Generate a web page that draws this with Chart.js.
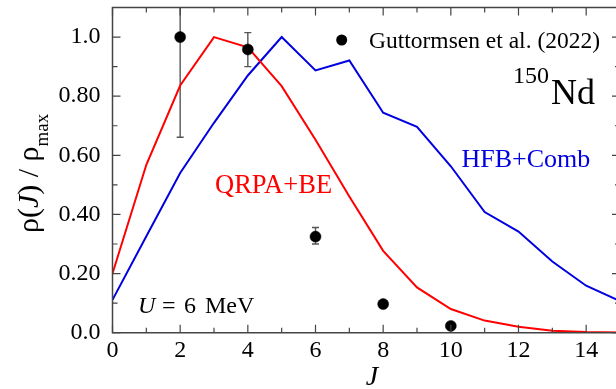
<!DOCTYPE html>
<html><head><meta charset="utf-8">
<script src="https://cdn.jsdelivr.net/npm/chart.js@4.4.0/dist/chart.umd.min.js"></script>
<style>
html,body{margin:0;padding:0;overflow:hidden;background:#fff;}
#wrap{width:626px;height:389px;position:relative;}
</style></head><body>
<div id="wrap"><canvas id="c"></canvas></div>
<script>
// ---- data ----
const spinJ    = [0,1,2,3,4,5,6,7,8,9,10,11,12,13,14,15];
const qrpaBE   = [0.200,0.568,0.836,1.000,0.965,0.834,0.653,0.461,0.277,0.153,0.080,0.041,0.020,0.007,0.002,0.001];
const hfbComb  = [0.111,0.326,0.540,0.710,0.870,1.000,0.887,0.921,0.744,0.696,0.563,0.408,0.342,0.241,0.159,0.107];
const expJ     = [2,4,6,8,10];
const expRho   = [1.000,0.958,0.325,0.097,0.023];
const expLow   = [0.661,0.900,0.300,0.090,0.018];
const expHigh  = [1.340,1.015,0.356,0.104,0.028];
const xTickVals   = [0,2,4,6,8,10,12,14];
const xTickLabels = ['0','2','4','6','8','10','12','14'];
const yTickVals   = [0,0.2,0.4,0.6,0.8,1.0];
const yTickLabels = ['0.0','0.20','0.40','0.60','0.80','1.0'];

const SERIF = '"Liberation Serif","Times New Roman",serif';
const RED = 'rgb(255,0,0)';
const BLUE = 'rgb(0,0,225)';

const pts = (xs, ys) => xs.map((x,i)=>({x:x, y:ys[i]}));

const framePlugin = {
  id:'frame',
  beforeDatasetsDraw(chart){
    const {ctx, chartArea:a, scales:{x, y}} = chart;
    ctx.save();
    ctx.beginPath(); ctx.rect(a.left, a.top, a.right-a.left, a.bottom-a.top); ctx.clip();
    ctx.strokeStyle = '#555'; ctx.lineWidth = 1.4;
    expJ.forEach((j,i)=>{
      const px = x.getPixelForValue(j);
      const lo = y.getPixelForValue(expLow[i]), hi = y.getPixelForValue(expHigh[i]);
      ctx.beginPath();
      ctx.moveTo(px, lo); ctx.lineTo(px, hi);
      ctx.moveTo(px-3.5, lo); ctx.lineTo(px+3.5, lo);
      ctx.moveTo(px-3.5, hi); ctx.lineTo(px+3.5, hi);
      ctx.stroke();
    });
    ctx.restore();
  },
  afterDatasetsDraw(chart){
    const {ctx, chartArea:a, scales:{x, y}} = chart;
    const L = a.left, B = a.bottom, T = a.top, R = x.getPixelForValue(15);
    ctx.save();
    ctx.strokeStyle = '#444'; ctx.lineWidth = 1.5;
    ctx.beginPath();
    ctx.moveTo(L, T); ctx.lineTo(L, B); ctx.lineTo(R, B); ctx.lineTo(R, T); ctx.closePath();
    ctx.stroke();
    ctx.lineWidth = 1.2;
    ctx.beginPath();
    for(let j=0;j<=15;j++){
      const px = x.getPixelForValue(j);
      const len = (j%2===0) ? 8 : 5;
      ctx.moveTo(px, B); ctx.lineTo(px, B-len);
      ctx.moveTo(px, T); ctx.lineTo(px, T+len);
    }
    for(let k=0;k<=11;k++){
      const py = y.getPixelForValue(k/10);
      const len = (k%2===0) ? 8 : 5;
      ctx.moveTo(L, py); ctx.lineTo(L+len, py);
      ctx.moveTo(R, py); ctx.lineTo(R-len, py);
    }
    ctx.stroke();
    ctx.restore();

    ctx.save();
    ctx.textBaseline = 'alphabetic';
    ctx.fillStyle = '#000';
    ctx.beginPath(); ctx.arc(341.7, 40, 5.5, 0, Math.PI*2); ctx.fill();
    ctx.font = '23.5px '+SERIF;
    ctx.fillText('Guttormsen et al. (2022)', 369, 48);
    ctx.font = '24px '+SERIF;
    ctx.fillText('150', 513, 83);
    ctx.font = '36px '+SERIF;
    ctx.fillText('Nd', 551, 104);
    ctx.font = '26px '+SERIF;
    ctx.fillStyle = BLUE; ctx.fillText('HFB+Comb', 461.5, 167);
    ctx.font = '26.5px '+SERIF;
    ctx.fillStyle = RED;  ctx.fillText('QRPA+BE', 215, 193);
    ctx.fillStyle = '#000';
    ctx.font = 'italic 24px '+SERIF;
    ctx.fillText('U', 138, 313);
    ctx.font = '24px '+SERIF;
    ctx.fillText('=', 162, 313);
    ctx.fillText('6', 184, 313);
    ctx.fillText('MeV', 205, 313);
    ctx.font = 'italic 28px '+SERIF;
    ctx.textAlign = 'center';
    ctx.fillText('J', 372, 385);
    ctx.textAlign = 'left';
    ctx.translate(38, 233);
    ctx.rotate(-Math.PI/2);
    let cx = 0;
    const part = (t, f, dy) => { ctx.font = f; ctx.fillText(t, cx, dy||0); cx += ctx.measureText(t).width; };
    part('\u03C1(', '30px '+SERIF);
    part('J', 'italic 30px '+SERIF);
    part(') / \u03C1', '30px '+SERIF);
    part('max', '19px '+SERIF, 10);
    ctx.restore();
  }
};

new Chart(document.getElementById('c'), {
  type:'line',
  data:{
    datasets:[
      {label:'Guttormsen et al. (2022)', type:'scatter', data:pts(expJ, expRho), showLine:false,
       pointRadius:5.5, pointBackgroundColor:'#000', pointBorderColor:'#000', pointBorderWidth:0.5, order:0},
      {label:'QRPA+BE', data:pts(spinJ, qrpaBE), borderColor:RED, borderWidth:2, pointRadius:0, tension:0, fill:false, order:1},
      {label:'HFB+Comb', data:pts(spinJ, hfbComb), borderColor:BLUE, borderWidth:2, pointRadius:0, tension:0, fill:false, order:2}
    ]
  },
  options:{
    responsive:true, maintainAspectRatio:false, animation:false, devicePixelRatio:1,
    layout:{padding:{left:0, right:5, top:7.5, bottom:0}},
    plugins:{legend:{display:false}, tooltip:{enabled:false}},
    scales:{
      x:{type:'linear', min:0, max:15,
         grid:{display:false, drawTicks:false}, border:{display:false},
         afterBuildTicks:(s)=>{ s.ticks = xTickVals.map(v=>({value:v})); },
         afterFit:(s)=>{ s.height = 56.3; s.paddingLeft = 0; s.paddingRight = 0; },
         ticks:{padding:4, color:'#000', font:{family:SERIF, size:24}, maxRotation:0, autoSkip:false,
                callback:(v,i)=>xTickLabels[i]}},
      y:{type:'linear', min:0, max:1.1,
         grid:{display:false, drawTicks:false}, border:{display:false},
         afterBuildTicks:(s)=>{ s.ticks = yTickVals.map(v=>({value:v})); },
         afterFit:(s)=>{ s.width = 112.5; s.paddingTop = 0; s.paddingBottom = 0; },
         ticks:{padding:12, color:'#000', font:{family:SERIF, size:24}, autoSkip:false,
                callback:(v,i)=>yTickLabels[i]}}
    }
  },
  plugins:[framePlugin]
});
</script>
</body></html>
